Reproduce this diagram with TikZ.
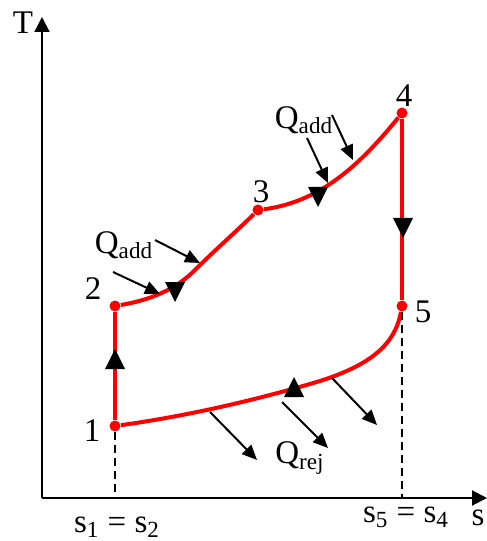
\documentclass[tikz,border=0pt]{standalone}
\usepackage{fontspec}
\setmainfont{Liberation Serif}
\usetikzlibrary{arrows.meta}
\tikzset{
  cyc/.style={red,line width=2bp},
  state/.style={circle,fill=red,inner sep=0pt,minimum size=5.5bp},
  lbl/.style={inner sep=0pt,font=\fontsize{16.5bp}{20bp}\selectfont},
  heat/.style={line width=1bp,-{Triangle[length=7.5bp,width=6.5bp]}},
  axis/.style={line width=1bp,-{Triangle[length=7.5bp,width=7.5bp]}},
  proj/.style={line width=0.8bp,dash pattern=on 4bp off 2.5bp}
}
\newcommand{\tup}[1]{\fill (#1) ++(-10,10) -- ++(20,0) -- ++(-10,-20) -- cycle;}
\newcommand{\tdn}[1]{\fill (#1) ++(-10,-10) -- ++(20,0) -- ++(-10,20) -- cycle;}
\begin{document}
\begin{tikzpicture}[x=0.5bp,y=-0.5bp]
\useasboundingbox (0,0) rectangle (487,541);
% axes
\coordinate (o) at (42,498);
\coordinate (tmax) at (42,17);
\coordinate (smax) at (487,498);
\draw[axis] (o) -- (tmax);
\draw[axis] (o) -- (smax);
\node[lbl] (tl) at (23,23) {T};
\node[lbl] (sl) at (478,518) {s};
% states
\node[state] (p1) at (115,426) {};
\node[state] (p2) at (115,306) {};
\node[state] (p3) at (258,210) {};
\node[state] (p4) at (402,113) {};
\node[state] (p5) at (402,306) {};
\node[lbl] (n1) at (92,431) {1};
\node[lbl] (n2) at (93,289) {2};
\node[lbl] (n3) at (261,192) {3};
\node[lbl] (n4) at (404,96) {4};
\node[lbl] (n5) at (423,312) {5};
% cycle
\draw[cyc] (p1) -- (p2);
\draw[cyc] (p2) .. controls (150,300) and (175,290) .. (195,270)
  .. controls (215,250) and (240,228) .. (p3);
\draw[cyc] (p3) .. controls (320,202) and (360,165) .. (p4);
\draw[cyc] (p4) -- (p5);
\draw[cyc] (p5) .. controls (395,345) and (370,365) .. (320,381)
  .. controls (250,402) and (180,417) .. (p1);
% direction marks
\tup{115,359}
\tdn{175,292}
\tdn{318,197}
\tdn{403,228}
\tup{294,387}
% projections
\coordinate (s12) at (115,498);
\coordinate (s54) at (402,498);
\draw[proj] (p1) -- (s12);
\draw[proj] (p5) -- (s54);
\node[lbl] (e12) at (117,527) {s\textsubscript{1} = s\textsubscript{2}};
\node[lbl] (e54) at (406,517) {s\textsubscript{5} = s\textsubscript{4}};
% heat in
\coordinate (a1) at (113,272); \coordinate (b1) at (160,294);
\coordinate (a2) at (155,240); \coordinate (b2) at (200,263);
\coordinate (a3) at (307,138); \coordinate (b3) at (328,183);
\coordinate (a4) at (332,115); \coordinate (b4) at (353,160);
\draw[heat] (a1) -- (b1);
\draw[heat] (a2) -- (b2);
\draw[heat] (a3) -- (b3);
\draw[heat] (a4) -- (b4);
\node[lbl] (qa) at (124,245) {Q\textsubscript{add}};
\node[lbl] (qb) at (304,120) {Q\textsubscript{add}};
% heat out
\coordinate (c1) at (210,412); \coordinate (d1) at (257,460);
\coordinate (c2) at (282,402); \coordinate (d2) at (328,448);
\coordinate (c3) at (332,378); \coordinate (d3) at (377,425);
\draw[heat] (c1) -- (d1);
\draw[heat] (c2) -- (d2);
\draw[heat] (c3) -- (d3);
\node[lbl] (qr) at (300,458) {Q\textsubscript{rej}};
\end{tikzpicture}
\end{document}
